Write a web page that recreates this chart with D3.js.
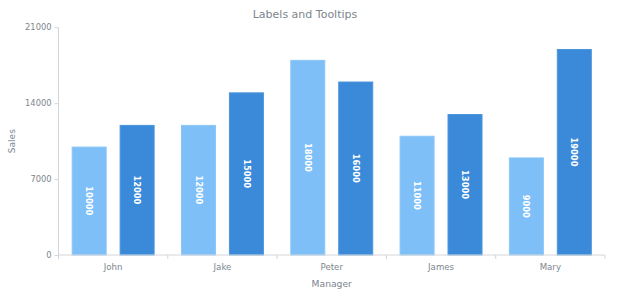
<!DOCTYPE html>
<html>
<head>
<meta charset="utf-8">
<script src="https://cdn.jsdelivr.net/npm/d3@7"></script>
<style>
  html, body { margin: 0; padding: 0; background: #ffffff; }
  svg { display: block; font-family: "DejaVu Sans", Verdana, sans-serif; }
</style>
</head>
<body>
<svg id="chart" width="620" height="300"></svg>
<script>
const managers = ["John", "Jake", "Peter", "James", "Mary"];
const seriesNames = ["Series 1", "Series 2"];
const series1 = [10000, 12000, 18000, 11000, 9000];
const series2 = [12000, 15000, 16000, 13000, 19000];
const yTicks = [0, 7000, 14000, 21000];
const colors = ["#7ebff7", "#3b8ad9"];
const strokes = ["#8cc7f7", "#4c95dc"];

const svg = d3.select("#chart");
const plotLeft = 58.5, plotRight = 605, plotTop = 27.3, plotBottom = 255;
const textColor = "#7c868e";
const axisColor = "#d3d6d9";

const x = d3.scaleBand().domain(managers).range([plotLeft, plotRight]).padding(0);
const x1 = d3.scaleBand().domain(d3.range(2)).range([0, x.bandwidth()])
  .paddingInner(0.27).paddingOuter(0.275);
const y = d3.scaleLinear().domain([0, 21000]).range([plotBottom, plotTop]);

const data = managers.map((m, i) => ({ m, vals: [series1[i], series2[i]] }));

// title
svg.append("text").attr("x", 305).attr("y", 18)
  .attr("text-anchor", "middle").attr("font-size", 11).attr("fill", textColor)
  .text("Labels and Tooltips");

// bars
const g = svg.append("g");
data.forEach(d => {
  d.vals.forEach((v, k) => {
    const bx = x(d.m) + x1(k);
    g.append("rect")
      .attr("x", bx + 0.5).attr("y", y(v) + 0.5)
      .attr("width", x1.bandwidth() - 1).attr("height", y(0) - y(v) - 0.5)
      .attr("fill", colors[k]).attr("stroke", strokes[k]).attr("stroke-width", 1);
    const cx = bx + x1.bandwidth() / 2, cy = (y(v) + y(0)) / 2;
    g.append("text")
      .attr("transform", `translate(${cx},${cy}) rotate(90)`)
      .attr("text-anchor", "middle").attr("dy", "0.35em")
      .attr("font-size", 8.3).attr("font-weight", "bold").attr("fill", "#ffffff")
      .text(v);
  });
});

// y axis
const yAxis = svg.append("g").attr("transform", `translate(${plotLeft},0)`)
  .call(d3.axisLeft(y).tickValues(yTicks).tickSize(4).tickPadding(3).tickFormat(d => d));
yAxis.select(".domain").attr("stroke", axisColor).attr("d", `M0,${plotBottom}V${plotTop}`);
yAxis.selectAll(".tick line").attr("stroke", axisColor);
yAxis.selectAll(".tick text").attr("fill", textColor).attr("font-size", 8.3)
  .attr("font-family", "DejaVu Sans, sans-serif");

// x axis
const xAxis = svg.append("g").attr("transform", `translate(0,${plotBottom})`)
  .call(d3.axisBottom(x).tickSize(0).tickPadding(9));
xAxis.select(".domain").attr("stroke", axisColor).attr("d", `M${plotLeft},0H${plotRight}`);
xAxis.selectAll(".tick text").attr("fill", textColor).attr("font-size", 8.6)
  .attr("font-family", "DejaVu Sans, sans-serif");
// boundary ticks
const bounds = managers.map(m => x(m)).concat([plotRight]);
xAxis.selectAll(".bound").data(bounds).enter().append("line")
  .attr("x1", d => d).attr("x2", d => d).attr("y1", 0).attr("y2", 4)
  .attr("stroke", axisColor);

// axis titles
svg.append("text").attr("x", (plotLeft + plotRight) / 2).attr("y", 287)
  .attr("text-anchor", "middle").attr("font-size", 9.2).attr("fill", textColor)
  .text("Manager");
svg.append("text").attr("transform", `translate(15,${(plotTop + plotBottom) / 2}) rotate(-90)`)
  .attr("text-anchor", "middle").attr("font-size", 9).attr("fill", textColor)
  .text("Sales");
</script>
</body>
</html>
